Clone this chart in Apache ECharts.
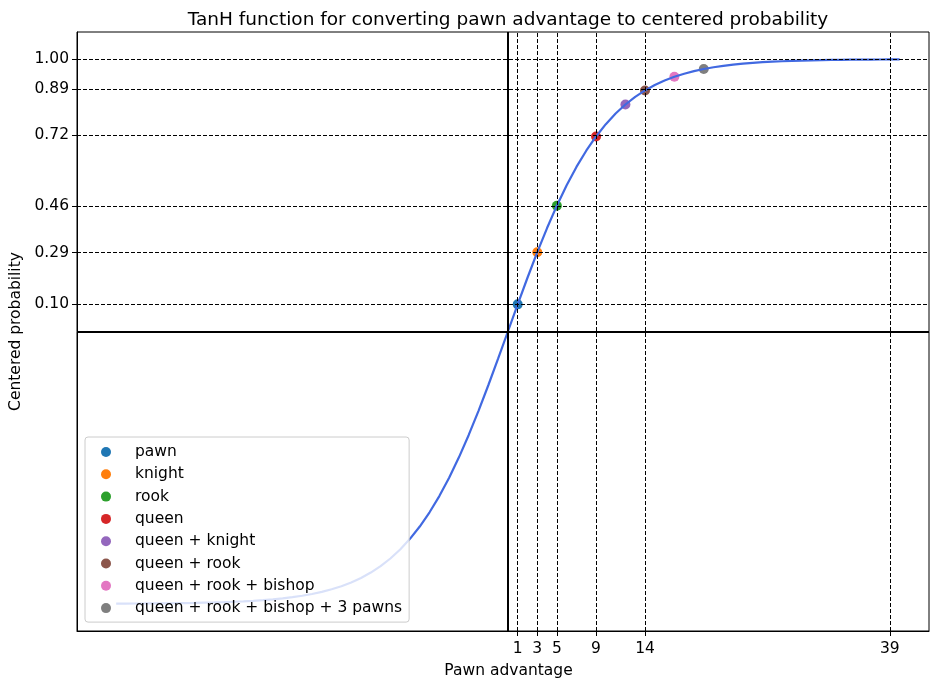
<!DOCTYPE html>
<html>
<head>
<meta charset="utf-8">
<script src="https://cdn.jsdelivr.net/npm/echarts@6/dist/echarts.min.js"></script>
<style>
  html, body { margin: 0; padding: 0; background: #fff; }
  #chart { width: 930px; height: 679px; }
</style>
</head>
<body>
<div id="chart"></div>
<script>
// Curve: centered probability for each pawn advantage from -40 to 40
const curveX = [
  -40,-39,-38,-37,-36,-35,-34,-33,-32,-31,-30,-29,-28,-27,-26,-25,-24,-23,-22,-21,
  -20,-19,-18,-17,-16,-15,-14,-13,-12,-11,-10,-9,-8,-7,-6,-5,-4,-3,-2,-1,
  0,1,2,3,4,5,6,7,8,9,10,11,12,13,14,15,16,17,18,19,
  20,21,22,23,24,25,26,27,28,29,30,31,32,33,34,35,36,37,38,39,40
];
const curveY = [
  -0.9993,-0.9992,-0.9990,-0.9988,-0.9985,-0.9982,-0.9978,-0.9973,-0.9967,-0.9959,
  -0.9951,-0.9940,-0.9926,-0.9910,-0.9890,-0.9866,-0.9837,-0.9801,-0.9757,-0.9705,
  -0.9640,-0.9562,-0.9468,-0.9354,-0.9217,-0.9051,-0.8854,-0.8617,-0.8337,-0.8005,
  -0.7616,-0.7163,-0.6640,-0.6044,-0.5370,-0.4621,-0.3799,-0.2913,-0.1974,-0.0997,
  0.0,
  0.0997,0.1974,0.2913,0.3799,0.4621,0.5370,0.6044,0.6640,0.7163,0.7616,
  0.8005,0.8337,0.8617,0.8854,0.9051,0.9217,0.9354,0.9468,0.9562,0.9640,
  0.9705,0.9757,0.9801,0.9837,0.9866,0.9890,0.9910,0.9926,0.9940,0.9951,
  0.9959,0.9967,0.9973,0.9978,0.9982,0.9985,0.9988,0.9990,0.9992,0.9993
];

// Material combinations
const pieceNames = [
  'pawn', 'knight', 'rook', 'queen', 'queen + knight', 'queen + rook',
  'queen + rook + bishop', 'queen + rook + bishop + 3 pawns'
];
const pieceAdvantage = [1, 3, 5, 9, 12, 14, 17, 20];
const pieceProbability = [0.0997, 0.2913, 0.4621, 0.7163, 0.8337, 0.8854, 0.9354, 0.9640];
const pieceColors = ['#1f77b4', '#ff7f0e', '#2ca02c', '#d62728', '#9467bd', '#8c564b', '#e377c2', '#7f7f7f'];

// Tick labels / reference lines
const xTicks = [1, 3, 5, 9, 14, 39];
const yTicks = [0.10, 0.29, 0.46, 0.72, 0.89, 1.00];

const FONT = 'DejaVu Sans';
const FS = 15.5;

const chart = echarts.init(document.getElementById('chart'), null, { renderer: 'canvas' });

const scatterSeries = pieceNames.map((name, i) => ({
  name: name,
  type: 'scatter',
  z: 3,
  symbol: 'circle',
  symbolSize: 10,
  itemStyle: { color: pieceColors[i], opacity: 1 },
  data: [[pieceAdvantage[i], pieceProbability[i]]]
}));

const option = {
  animation: false,
  backgroundColor: '#ffffff',
  textStyle: { fontFamily: FONT },
  title: {
    text: 'TanH function for converting pawn advantage to centered probability',
    left: 503,
    top: 6,
    textAlign: 'center',
    textStyle: { fontFamily: FONT, fontSize: 18.5, fontWeight: 'normal', color: '#000' }
  },
  grid: {
    left: 77, right: 1, top: 32, bottom: 48,
    outerBoundsMode: 'none',
    containLabel: false,
    show: true, borderColor: '#000', borderWidth: 1, backgroundColor: 'transparent'
  },
  legend: {
    data: pieceNames,
    orient: 'vertical',
    left: 85,
    top: 437,
    icon: 'circle',
    itemWidth: 10,
    itemHeight: 10,
    itemGap: 6.3,
    padding: [7, 7, 6, 16],
    backgroundColor: 'rgba(255,255,255,0.8)',
    borderColor: '#cccccc',
    borderWidth: 1,
    borderRadius: 3,
    z: 10,
    selectedMode: false,
    textStyle: {
      fontFamily: FONT, fontSize: FS, color: '#000', lineHeight: 16,
      padding: [0, 0, 0, 19]
    }
  },
  xAxis: {
    type: 'value',
    min: -44,
    max: 43,
    name: 'Pawn advantage',
    nameLocation: 'middle',
    nameGap: 32,
    nameTextStyle: { fontFamily: FONT, fontSize: FS, color: '#000', padding: [0, 0, 0, 11] },
    axisLine: { show: true, onZero: false, lineStyle: { color: '#000', width: 1 } },
    axisTick: { show: true, length: 5, customValues: xTicks, lineStyle: { color: '#000' } },
    axisLabel: { customValues: xTicks, fontFamily: FONT, fontSize: FS, color: '#000', margin: 10 },
    splitLine: { show: false }
  },
  yAxis: {
    type: 'value',
    min: -1.1,
    max: 1.1,
    name: 'Centered probability',
    nameLocation: 'middle',
    nameGap: 49,
    nameTextStyle: { fontFamily: FONT, fontSize: FS, color: '#000' },
    axisLine: { show: true, onZero: false, lineStyle: { color: '#000', width: 1 } },
    axisTick: { show: true, length: 5, customValues: yTicks, lineStyle: { color: '#000' } },
    axisLabel: {
      customValues: yTicks, fontFamily: FONT, fontSize: FS, color: '#000', margin: 8,
      formatter: v => v.toFixed(2)
    },
    splitLine: { show: false }
  },
  series: [
    {
      // dashed reference lines at the labelled ticks, plus solid zero axes
      name: 'guides',
      type: 'line',
      z: 1,
      data: [],
      markLine: {
        silent: true,
        symbol: ['none', 'none'],
        label: { show: false },
        animation: false,
        lineStyle: { color: '#000', type: [4, 2], width: 1 },
        data: [
          ...xTicks.map(v => ({ xAxis: v })),
          ...yTicks.map(v => ({ yAxis: v })),
          { xAxis: 0, lineStyle: { type: 'solid', width: 2 } },
          { yAxis: 0, lineStyle: { type: 'solid', width: 2 } }
        ]
      }
    },
    ...scatterSeries,
    {
      name: 'tanh',
      type: 'line',
      z: 4,
      symbol: 'none',
      smooth: false,
      lineStyle: { color: '#4169e1', width: 2.2 },
      data: curveX.map((x, i) => [x, curveY[i]])
    }
  ]
};

chart.setOption(option);
</script>
</body>
</html>
